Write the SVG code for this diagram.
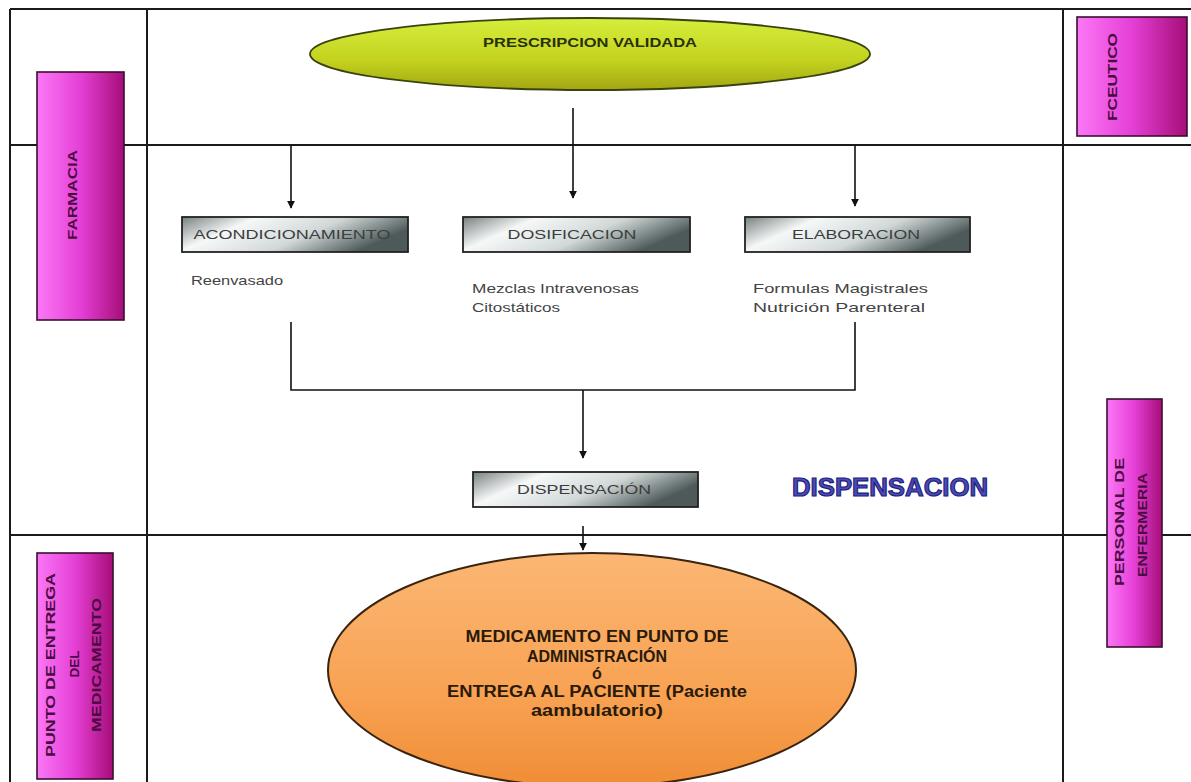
<svg xmlns="http://www.w3.org/2000/svg" width="1191" height="782" viewBox="0 0 1191 782">
<defs>
<linearGradient id="mag" x1="0" y1="0" x2="1" y2="0">
<stop offset="0" stop-color="#fb78f6"/>
<stop offset="0.5" stop-color="#e53fd6"/>
<stop offset="1" stop-color="#a60e78"/>
</linearGradient>
<linearGradient id="grey" x1="0" y1="0" x2="1" y2="0.35">
<stop offset="0" stop-color="#76807f"/>
<stop offset="0.3" stop-color="#f6f8f8"/>
<stop offset="0.65" stop-color="#d2d8d8"/>
<stop offset="1" stop-color="#4e5a5a"/>
</linearGradient>
<linearGradient id="green" x1="0" y1="0" x2="0" y2="1">
<stop offset="0" stop-color="#d6ee3c"/>
<stop offset="0.6" stop-color="#c2d21e"/>
<stop offset="1" stop-color="#a3a612"/>
</linearGradient>
<linearGradient id="orange" x1="0" y1="0" x2="0" y2="1">
<stop offset="0" stop-color="#fbb774"/>
<stop offset="0.6" stop-color="#f8a253"/>
<stop offset="1" stop-color="#f08d35"/>
</linearGradient>
<marker id="arr" viewBox="0 0 10 10" refX="9" refY="5" markerWidth="8" markerHeight="8" markerUnits="userSpaceOnUse" orient="auto">
<path d="M0,0 L10,5 L0,10 z" fill="#111"/>
</marker>
<style>
.grid{stroke:#1a1a1a;stroke-width:2;fill:none}
.conn{stroke:#111;stroke-width:1.6;fill:none}
.mag{fill:url(#mag);stroke:#3a0f30;stroke-width:1.6}
.box{fill:url(#grey);stroke:#222;stroke-width:1.8}
.vlab{font-family:"Liberation Sans",Arial,sans-serif;font-weight:bold;font-size:12px;fill:#4a0a40;text-anchor:middle}
.blab{font-family:"Liberation Sans",Arial,sans-serif;font-size:13px;fill:#3a3e3e;text-anchor:middle}
.sub{font-family:"Liberation Sans",Arial,sans-serif;font-size:13px;fill:#444}
.elab{font-family:"Liberation Sans",Arial,sans-serif;font-weight:bold;font-size:16px;fill:#2a1a0a;text-anchor:middle}
</style>
</defs>
<rect width="1191" height="782" fill="#ffffff"/>
<g id="grid" class="grid">
<line x1="10" y1="9" x2="1191" y2="9"/>
<line x1="10" y1="145" x2="1191" y2="145"/>
<line x1="10" y1="535" x2="1191" y2="535"/>
<line x1="10" y1="9" x2="10" y2="782"/>
<line x1="147" y1="9" x2="147" y2="782"/>
<line x1="1063" y1="9" x2="1063" y2="782"/>
</g>
<g id="connectors">
<line class="conn" x1="291" y1="146" x2="291" y2="208" marker-end="url(#arr)"/>
<line class="conn" x1="573" y1="108" x2="573" y2="198" marker-end="url(#arr)"/>
<line class="conn" x1="855" y1="146" x2="855" y2="206" marker-end="url(#arr)"/>
<polyline class="conn" points="291,322 291,390 855,390 855,322"/>
<line class="conn" x1="583" y1="390" x2="583" y2="458" marker-end="url(#arr)"/>
<line class="conn" x1="583" y1="526" x2="583" y2="550" marker-end="url(#arr)"/>
</g>
<g id="farmacia">
<rect class="mag" x="37" y="72" width="87" height="248"/>
<text class="vlab" transform="translate(73,195) rotate(-90)" dy="0.35em" textLength="90" lengthAdjust="spacingAndGlyphs">FARMACIA</text>
</g>
<g id="fceutico">
<rect class="mag" x="1077" y="17" width="110" height="119"/>
<text class="vlab" transform="translate(1113,77) rotate(-90)" dy="0.35em" textLength="88" lengthAdjust="spacingAndGlyphs">FCEUTICO</text>
</g>
<g id="personal">
<rect class="mag" x="1107" y="399" width="55" height="248"/>
<text class="vlab" transform="translate(1120,522) rotate(-90)" dy="0.35em" textLength="128" lengthAdjust="spacingAndGlyphs">PERSONAL  DE</text>
<text class="vlab" transform="translate(1143,525) rotate(-90)" dy="0.35em" textLength="104" lengthAdjust="spacingAndGlyphs">ENFERMERIA</text>
</g>
<g id="punto">
<rect class="mag" x="37" y="553" width="76" height="226"/>
<text class="vlab" transform="translate(51,665) rotate(-90)" dy="0.35em" textLength="184" lengthAdjust="spacingAndGlyphs">PUNTO DE ENTREGA</text>
<text class="vlab" transform="translate(75,664) rotate(-90)" dy="0.35em" textLength="27" lengthAdjust="spacingAndGlyphs">DEL</text>
<text class="vlab" transform="translate(97,665) rotate(-90)" dy="0.35em" textLength="134" lengthAdjust="spacingAndGlyphs">MEDICAMENTO</text>
</g>
<g id="prescripcion">
<ellipse cx="590" cy="54" rx="280" ry="36" fill="url(#green)" stroke="#3a4210" stroke-width="1.8"/>
<text x="590" y="47" font-family="Liberation Sans, Arial, sans-serif" font-weight="bold" font-size="12" fill="#2a300a" text-anchor="middle" textLength="214" lengthAdjust="spacingAndGlyphs">PRESCRIPCION  VALIDADA</text>
</g>
<g id="acondicionamiento">
<rect class="box" x="182" y="217" width="226" height="35"/>
<text class="blab" x="292" y="239" textLength="197" lengthAdjust="spacingAndGlyphs">ACONDICIONAMIENTO</text>
<text class="sub" x="191" y="285" textLength="92" lengthAdjust="spacingAndGlyphs">Reenvasado</text>
</g>
<g id="dosificacion">
<rect class="box" x="463" y="217" width="227" height="35"/>
<text class="blab" x="572" y="239" textLength="129" lengthAdjust="spacingAndGlyphs">DOSIFICACION</text>
<text class="sub" x="472" y="293" textLength="167" lengthAdjust="spacingAndGlyphs">Mezclas  Intravenosas</text>
<text class="sub" x="472" y="312" textLength="88" lengthAdjust="spacingAndGlyphs">Citostáticos</text>
</g>
<g id="elaboracion">
<rect class="box" x="745" y="217" width="225" height="35"/>
<text class="blab" x="856" y="239" textLength="128" lengthAdjust="spacingAndGlyphs">ELABORACION</text>
<text class="sub" x="753" y="293" textLength="175" lengthAdjust="spacingAndGlyphs">Formulas  Magistrales</text>
<text class="sub" x="753" y="312" textLength="172" lengthAdjust="spacingAndGlyphs">Nutrición  Parenteral</text>
</g>
<g id="dispensacion-box">
<rect class="box" x="473" y="472" width="225" height="35"/>
<text class="blab" x="584" y="494" textLength="134" lengthAdjust="spacingAndGlyphs">DISPENSACIÓN</text>
</g>
<g id="dispensacion-title">
<text x="792" y="496" font-family="Liberation Sans, Arial, sans-serif" font-weight="900" font-size="26" fill="#4a4ab8" stroke="#22227a" stroke-width="1.2" textLength="196" lengthAdjust="spacingAndGlyphs">DISPENSACION</text>
</g>
<g id="medicamento">
<ellipse cx="592" cy="670" rx="264" ry="117" fill="url(#orange)" stroke="#3a2410" stroke-width="2"/>
<text class="elab" x="597" y="642" textLength="263" lengthAdjust="spacingAndGlyphs">MEDICAMENTO EN PUNTO DE</text>
<text class="elab" x="597" y="662" textLength="140" lengthAdjust="spacingAndGlyphs">ADMINISTRACIÓN</text>
<text class="elab" x="597" y="679">ó</text>
<text class="elab" x="597" y="697" textLength="300" lengthAdjust="spacingAndGlyphs">ENTREGA AL PACIENTE  (Paciente</text>
<text class="elab" x="597" y="716" textLength="132" lengthAdjust="spacingAndGlyphs">aambulatorio)</text>
</g>
</svg>
